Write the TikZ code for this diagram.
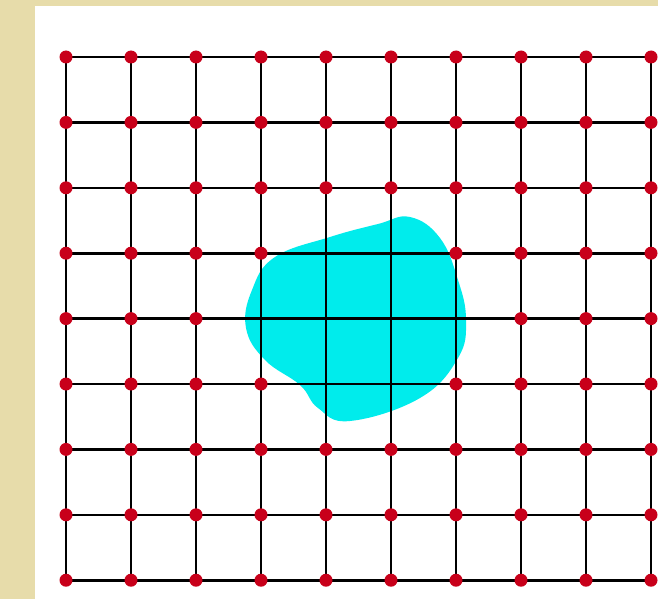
\documentclass[tikz,border=0pt]{standalone}
\usepackage{xcolor}
\usepackage{tikz}
\definecolor{frame}{HTML}{E7DCAA}
\definecolor{blob}{HTML}{00ECEC}
\definecolor{dotred}{HTML}{C8001A}
\begin{document}
\begin{tikzpicture}[x=1pt,y=-1pt,
  site/.style={circle,fill=dotred,inner sep=0pt,minimum size=13pt},
  bond/.style={line width=2.6pt,black}
]
\useasboundingbox (0,0) rectangle (658,599);
\fill[frame] (0,0) rectangle (658,599);
\fill[white] (35,6) rectangle (658,599);
% lattice points
\foreach \i in {0,...,9}
  \foreach \j in {0,...,8}
    \coordinate (p-\i-\j) at (66+65*\i,57+65.4*\j);
% the inclusion
\fill[blob] plot[smooth cycle,tension=0.7] coordinates {
  (410,217) (440,238) (458,280) (466,320) (458,358)
  (420,398) (350,421) (318,408) (300,385) (265,360)
  (246,328) (252,290) (275,257) (330,237) (378,224)};
% bonds
\foreach \i in {0,...,9}
  \draw[bond] (p-\i-0) -- (p-\i-8);
\foreach \j in {0,...,8}
  \draw[bond] (p-0-\j) -- (p-9-\j);
% sites outside the inclusion
\foreach \i in {0,...,9}
  \foreach \j in {0,...,8} {
    \pgfmathtruncatemacro\hide{(\j==4 && \i>=3 && \i<=6) || ((\j==3 || \j==5) && (\i==4 || \i==5))}
    \ifnum\hide=0 \node[site] (s-\i-\j) at (p-\i-\j) {}; \fi
  }
\end{tikzpicture}
\end{document}
